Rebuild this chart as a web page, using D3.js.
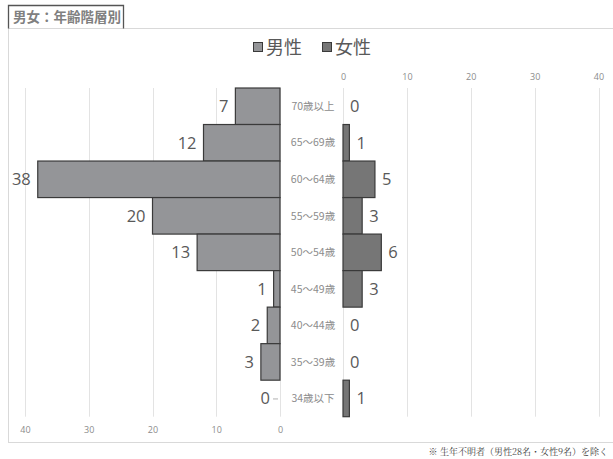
<!DOCTYPE html>
<html><head><meta charset="utf-8">
<script src="https://cdn.jsdelivr.net/npm/d3@7"></script>
<style>
html,body{margin:0;padding:0;background:#fff;}
svg{display:block;}
</style>
</head><body>
<svg id="chart" width="613" height="459"></svg>
<script>
const categories = ["70歳以上","65～69歳","60～64歳","55～59歳","50～54歳","45～49歳","40～44歳","35～39歳","34歳以下"];
const maleValues = [7,12,38,20,13,1,2,3,0];
const femaleValues = [0,1,5,3,6,3,0,0,1];
const tickValues = [0,10,20,30,40];
const seriesNames = ["男性","女性"];
const titleText = "男女：年齢階層別";
const noteText = "※ 生年不明者（男性28名・女性9名）を除く";

(function(){
const svg = d3.select("#chart");
const W = 613, H = 459;
const numFont = "'Open Sans','Noto Sans',sans-serif";
const jpFont = "'Noto Sans CJK JP',sans-serif";
const maleFill = "#949598", femaleFill = "#767676", barStroke = "#3a3a3a";

// chart frame
svg.append("rect").attr("x",8.5).attr("y",28.5).attr("width",W+10).attr("height",442-28)
  .attr("fill","#fff").attr("stroke","#d9d9d9").attr("stroke-width",1);

// title box
svg.append("path").attr("d","M8.5,28.5 V5.5 H123.5 V28.5").attr("fill","none").attr("stroke","#555").attr("stroke-width",1.3);
svg.append("text").attr("x",13).attr("y",22).text(titleText)
  .attr("font-family",jpFont).attr("font-weight","bold").attr("font-size",13.5).attr("fill","#808080");

const plotTop = 88, plotBottom = 416.7;
const y = d3.scaleBand().domain(categories).range([plotTop,plotBottom]).padding(0);
const xL = d3.scaleLinear().domain([0,40]).range([280,25]);
const xR = d3.scaleLinear().domain([0,40]).range([343,598.5]);

// gridlines
const grid = svg.append("g");
tickValues.forEach(t=>{
  grid.append("line").attr("x1",Math.round(xL(t))+0.5).attr("x2",Math.round(xL(t))+0.5).attr("y1",plotTop).attr("y2",plotBottom).attr("stroke","#e3e3e3");
  grid.append("line").attr("x1",Math.round(xR(t))+0.5).attr("x2",Math.round(xR(t))+0.5).attr("y1",plotTop).attr("y2",plotBottom).attr("stroke","#e3e3e3");
});

// axes
const axL = d3.axisBottom(xL).tickValues(tickValues).tickSize(0).tickPadding(0);
const gL = svg.append("g").attr("transform",`translate(0,${plotBottom+10})`).call(axL);
const axR = d3.axisTop(xR).tickValues(tickValues).tickSize(0).tickPadding(0);
const gR = svg.append("g").attr("transform",`translate(0,${plotTop-8})`).call(axR);
[gL,gR].forEach(g=>{
  g.select(".domain").remove();
  g.selectAll("text").attr("font-family",numFont).attr("font-size",9).attr("fill","#8c8c8c");
});

// bars
svg.append("g").selectAll("rect").data(maleValues).join("rect")
  .attr("x",(d)=>xL(d)).attr("y",(d,i)=>y(categories[i]))
  .attr("width",d=>xL(0)-xL(d)).attr("height",y.bandwidth())
  .attr("fill",maleFill).attr("stroke",d=>d>0?barStroke:"none").attr("stroke-width",1.2);
svg.append("g").selectAll("rect").data(femaleValues).join("rect")
  .attr("x",xR(0)).attr("y",(d,i)=>y(categories[i]))
  .attr("width",d=>xR(d)-xR(0)).attr("height",y.bandwidth())
  .attr("fill",femaleFill).attr("stroke",d=>d>0?barStroke:"none").attr("stroke-width",1.2);

// value labels
svg.append("g").selectAll("text").data(maleValues).join("text")
  .attr("x",d=>xL(d)-(d===0?10:7)).attr("y",(d,i)=>y(categories[i])+y.bandwidth()/2)
  .attr("dy","0.36em").attr("text-anchor","end")
  .attr("font-family",numFont).attr("font-size",16.5).attr("fill","#595959").text(d=>d);
svg.append("g").selectAll("text").data(femaleValues).join("text")
  .attr("x",d=>xR(d)+7).attr("y",(d,i)=>y(categories[i])+y.bandwidth()/2)
  .attr("dy","0.36em").attr("text-anchor","start")
  .attr("font-family",numFont).attr("font-size",16.5).attr("fill","#595959").text(d=>d);
// leader for zero male label
maleValues.forEach((d,i)=>{
  if(d===0){
    const cy = y(categories[i])+y.bandwidth()/2;
    svg.append("line").attr("x1",xL(0)-7).attr("x2",xL(0)-2).attr("y1",cy+0.5).attr("y2",cy+0.5).attr("stroke","#b0b0b0");
  }
});

// category labels
svg.append("g").selectAll("text").data(categories).join("text")
  .attr("x",313).attr("y",d=>y(d)+y.bandwidth()/2).attr("dy","0.35em").attr("text-anchor","middle")
  .attr("font-family",jpFont).attr("font-size",10.5).attr("fill","#8c8c8c").text(d=>d);

// legend
const lg = svg.append("g");
const legendItems = [{name:seriesNames[0],fill:maleFill,x:253},{name:seriesNames[1],fill:femaleFill,x:322}];
legendItems.forEach(it=>{
  lg.append("rect").attr("x",it.x+0.5).attr("y",42.5).attr("width",9).attr("height",9).attr("fill",it.fill).attr("stroke",barStroke);
  lg.append("text").attr("x",it.x+13).attr("y",54).text(it.name)
    .attr("font-family",jpFont).attr("font-size",18).attr("fill","#595959");
});

// footnote
svg.append("text").attr("x",608).attr("y",455).attr("text-anchor","end").text(noteText)
  .attr("font-family","'Noto Serif CJK JP','Noto Sans CJK JP',serif").attr("font-size",9).attr("fill","#404040");
})();
</script>
</body></html>
